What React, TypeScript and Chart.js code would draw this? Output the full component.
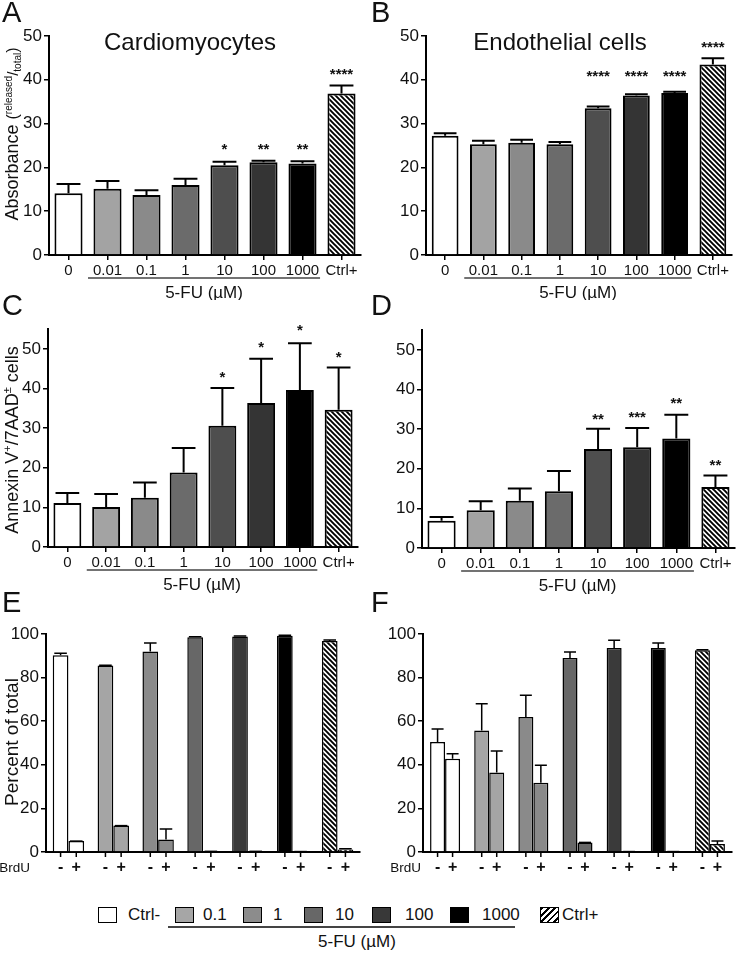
import React, { useEffect, useRef } from "react";
import { Chart, registerables } from "chart.js";
Chart.register(...registerables);

const FONT = "'Liberation Sans', Arial, Helvetica, sans-serif";
const INK = "#111111";

// ---------------- data ----------------
const doseLabels = ["0", "0.01", "0.1", "1", "10", "100", "1000", "Ctrl+"];
const doseColors = ["#ffffff", "#a3a3a3", "#8a8a8a", "#6b6b6b", "#4e4e4e", "#343434", "#000000", "hatch"];

// A: Cardiomyocytes, absorbance
const cardioAbsMeans = [14.1, 15.1, 13.7, 16.0, 20.5, 21.2, 20.9, 36.9];
const cardioAbsErrs = [2.1, 1.8, 1.1, 1.4, 0.8, 0.3, 0.5, 1.8];
const cardioAbsStars = ["", "", "", "", "*", "**", "**", "****"];
const cardioAbsStarY = [null, null, null, null, 25, 25, 25, 42.1];

// B: Endothelial cells, absorbance
const endoAbsMeans = [27.2, 25.3, 25.6, 25.3, 33.5, 36.4, 37.0, 43.5];
const endoAbsErrs = [0.6, 0.8, 0.7, 0.5, 0.4, 0.3, 0.3, 1.4];
const endoAbsStars = ["", "", "", "", "****", "****", "****", "****"];
const endoAbsStarY = [null, null, null, null, 41.6, 41.6, 41.6, 48.3];

// C: Cardiomyocytes, Annexin V+/7AAD± cells
const cardioAnxMeans = [11.1, 10.1, 12.4, 18.8, 30.6, 36.3, 39.6, 34.6];
const cardioAnxErrs = [2.5, 3.3, 3.9, 6.2, 9.5, 11.2, 11.8, 10.7];
const cardioAnxStars = ["", "", "", "", "*", "*", "*", "*"];
const cardioAnxStarY = [null, null, null, null, 43.9, 51.5, 55.7, 48.9];

// D: Endothelial cells, Annexin V+/7AAD± cells
const endoAnxMeans = [6.9, 9.5, 11.9, 14.3, 25.0, 25.4, 27.6, 15.4];
const endoAnxErrs = [0.9, 2.3, 3.1, 5.1, 5.1, 4.9, 6.0, 2.9];
const endoAnxStars = ["", "", "", "", "**", "***", "**", "**"];
const endoAnxStarY = [null, null, null, null, 33.4, 33.9, 37.6, 21.8];

// E / F: BrdU
const brduGroups = ["Ctrl-", "0.1", "1", "10", "100", "1000", "Ctrl+"];
const brduColors = ["#ffffff", "#a5a5a5", "#8a8a8a", "#676767", "#3a3a3a", "#000000", "hatch"];
const brduSigns = ["-", "+"];

const cardioBrduNeg = [90.2, 85.5, 92.0, 98.5, 98.9, 99.2, 96.8];
const cardioBrduNegErr = [1.0, 0.2, 3.9, 0.2, 0.2, 0.2, 0.4];
const cardioBrduPos = [5.0, 12.1, 5.7, 0.3, 0.3, 0.2, 1.2];
const cardioBrduPosErr = [0.0, 0.0, 4.9, 0.0, 0.0, 0.0, 0.3];

const endoBrduNeg = [50.5, 55.7, 61.9, 89.0, 93.6, 93.6, 92.5];
const endoBrduNegErr = [5.9, 12.3, 10.0, 2.7, 3.5, 2.3, 0.3];
const endoBrduPos = [42.8, 36.5, 31.8, 4.4, 0.2, 0.2, 3.7];
const endoBrduPosErr = [2.3, 9.8, 8.0, 0.0, 0.0, 0.0, 1.3];

// legend
const legendLabels = ["Ctrl-", "0.1", "1", "10", "100", "1000", "Ctrl+"];
const legendColors = ["#ffffff", "#a6a6a6", "#8c8c8c", "#676767", "#383838", "#000000", "hatch"];

// ---------------- layout ----------------
const legendBoxX = [98, 175, 243, 304, 372, 450, 540];
const legendTextX = [128, 203, 273, 335, 405, 482, 562];

type Part = { t: string; s: number; dy?: number };
type PanelSpec = {
  key: string;
  left: number; top: number; w: number; h: number;
  area: { l: number; r: number; t: number; b: number };
  xH: number;
  yMax: number; yStep: number;
  labels: string[];
  series: { data: number[]; errs: number[]; colors: string[] }[];
  barPct: number; catPct: number;
  borderW: number;
  capFrac: number;
  letter: string; letterY: number;
  title?: { text: string; cx: number; y: number };
  yTitle?: { parts: Part[]; x: number; cy: number };
  stars?: string[]; starY?: (number | null)[];
  fu?: boolean;
  brdu?: { labelRight: number };
};

const panels: PanelSpec[] = [
  {
    key: "A", left: 0, top: 0, w: 369, h: 300,
    area: { l: 49, r: 361, t: 36, b: 255 }, xH: 30,
    yMax: 50, yStep: 10, labels: doseLabels,
    series: [{ data: cardioAbsMeans, errs: cardioAbsErrs, colors: doseColors }],
    barPct: 0.72, catPct: 1, borderW: 2, capFrac: 0.85,
    letter: "A", letterY: 22,
    title: { text: "Cardiomyocytes", cx: 190, y: 50 },
    yTitle: {
      parts: [
        { t: "Absorbance ", s: 18 },
        { t: "(", s: 16 },
        { t: "released", s: 10, dy: -6 },
        { t: "/", s: 15 },
        { t: "total", s: 10, dy: 3 },
        { t: ")", s: 16 },
      ],
      x: 18, cy: 134,
    },
    stars: cardioAbsStars, starY: cardioAbsStarY, fu: true,
  },
  {
    key: "B", left: 369, top: 0, w: 370, h: 300,
    area: { l: 57, r: 363, t: 36, b: 255 }, xH: 30,
    yMax: 50, yStep: 10, labels: doseLabels,
    series: [{ data: endoAbsMeans, errs: endoAbsErrs, colors: doseColors }],
    barPct: 0.7, catPct: 1, borderW: 2, capFrac: 0.85,
    letter: "B", letterY: 22,
    title: { text: "Endothelial cells", cx: 191, y: 50 },
    stars: endoAbsStars, starY: endoAbsStarY, fu: true,
  },
  {
    key: "C", left: 0, top: 285, w: 369, h: 310,
    area: { l: 48, r: 358, t: 44, b: 262 }, xH: 30,
    yMax: 55, yStep: 10, labels: doseLabels,
    series: [{ data: cardioAnxMeans, errs: cardioAnxErrs, colors: doseColors }],
    barPct: 0.72, catPct: 1, borderW: 2, capFrac: 0.85,
    letter: "C", letterY: 30,
    yTitle: {
      parts: [
        { t: "Annexin V", s: 18 },
        { t: "+", s: 11, dy: -7 },
        { t: "/7AAD", s: 18 },
        { t: "±", s: 11, dy: -7 },
        { t: " cells", s: 18 },
      ],
      x: 18, cy: 155,
    },
    stars: cardioAnxStars, starY: cardioAnxStarY, fu: true,
  },
  {
    key: "D", left: 369, top: 285, w: 370, h: 310,
    area: { l: 53, r: 366, t: 45, b: 263 }, xH: 30,
    yMax: 55, yStep: 10, labels: doseLabels,
    series: [{ data: endoAnxMeans, errs: endoAnxErrs, colors: doseColors }],
    barPct: 0.72, catPct: 1, borderW: 2, capFrac: 0.85,
    letter: "D", letterY: 30,
    stars: endoAnxStars, starY: endoAnxStarY, fu: true,
  },
  {
    key: "E", left: 0, top: 585, w: 369, h: 295,
    area: { l: 46, r: 360, t: 49, b: 267 }, xH: 25,
    yMax: 100, yStep: 20, labels: brduGroups,
    series: [
      { data: cardioBrduNeg, errs: cardioBrduNegErr, colors: brduColors },
      { data: cardioBrduPos, errs: cardioBrduPosErr, colors: brduColors },
    ],
    barPct: 1, catPct: 0.7, borderW: 1.5, capFrac: 0.8,
    letter: "E", letterY: 27,
    yTitle: { parts: [{ t: "Percent of total", s: 19 }], x: 18, cy: 157 },
    brdu: { labelRight: 30 },
  },
  {
    key: "F", left: 369, top: 585, w: 370, h: 295,
    area: { l: 54, r: 363, t: 49, b: 267 }, xH: 25,
    yMax: 100, yStep: 20, labels: brduGroups,
    series: [
      { data: endoBrduNeg, errs: endoBrduNegErr, colors: brduColors },
      { data: endoBrduPos, errs: endoBrduPosErr, colors: brduColors },
    ],
    barPct: 1, catPct: 0.68, borderW: 1.5, capFrac: 0.8,
    letter: "F", letterY: 27,
    brdu: { labelRight: 52 },
  },
];

function makeHatchCanvas(size = 5, lw = 1.9) {
  const c = document.createElement("canvas");
  c.width = size;
  c.height = size;
  const g = c.getContext("2d")!;
  g.fillStyle = "#ffffff";
  g.fillRect(0, 0, size, size);
  g.strokeStyle = "#000000";
  g.lineWidth = lw;
  g.beginPath();
  for (const k of [-size, 0, size]) {
    g.moveTo(k - 1, -1);
    g.lineTo(k + size + 1, size + 1);
  }
  g.stroke();
  return c;
}

function extrasPlugin(p: PanelSpec) {
  return {
    id: "extras_" + p.key,
    afterDatasetsDraw(chart: any) {
      const ctx = chart.ctx as CanvasRenderingContext2D;
      const ys = chart.scales.y;
      ctx.save();
      ctx.strokeStyle = "#000";
      ctx.lineWidth = p.borderW;
      chart.data.datasets.forEach((ds: any, di: number) => {
        const meta = chart.getDatasetMeta(di);
        const errs = p.series[di].errs;
        meta.data.forEach((el: any, i: number) => {
          const e = errs[i];
          if (e == null) return;
          const top = ys.getPixelForValue(ds.data[i] + e);
          const half = (el.width * p.capFrac) / 2;
          ctx.beginPath();
          ctx.moveTo(el.x, el.y);
          ctx.lineTo(el.x, top);
          ctx.moveTo(el.x - half, top);
          ctx.lineTo(el.x + half, top);
          ctx.stroke();
        });
      });
      ctx.restore();
    },
    afterDraw(chart: any) {
      const ctx = chart.ctx as CanvasRenderingContext2D;
      const xs = chart.scales.x;
      const ys = chart.scales.y;
      const ca = chart.chartArea;
      ctx.save();
      ctx.fillStyle = INK;
      ctx.textBaseline = "alphabetic";
      // panel letter
      ctx.font = `29px ${FONT}`;
      ctx.textAlign = "left";
      ctx.fillText(p.letter, 2, p.letterY);
      // title
      if (p.title) {
        ctx.font = `24px ${FONT}`;
        ctx.textAlign = "center";
        ctx.fillText(p.title.text, p.title.cx, p.title.y);
      }
      // y title
      if (p.yTitle) {
        ctx.save();
        ctx.translate(p.yTitle.x, p.yTitle.cy);
        ctx.rotate(-Math.PI / 2);
        ctx.textAlign = "left";
        let total = 0;
        for (const part of p.yTitle.parts) {
          ctx.font = `${part.s}px ${FONT}`;
          total += ctx.measureText(part.t).width;
        }
        let x = -total / 2;
        for (const part of p.yTitle.parts) {
          ctx.font = `${part.s}px ${FONT}`;
          ctx.fillText(part.t, x, part.dy || 0);
          x += ctx.measureText(part.t).width;
        }
        ctx.restore();
      }
      // significance stars
      if (p.stars && p.starY) {
        ctx.font = `bold 15px ${FONT}`;
        ctx.textAlign = "center";
        const meta = chart.getDatasetMeta(0);
        p.stars.forEach((s, i) => {
          const v = p.starY![i];
          if (!s || v == null) return;
          ctx.fillText(s, meta.data[i].x, ys.getPixelForValue(v) + 8.7);
        });
      }
      // 5-FU underline + label
      if (p.fu) {
        const c1 = xs.getPixelForValue(1);
        const c6 = xs.getPixelForValue(6);
        const cw = xs.getPixelForValue(2) - c1;
        const x1 = c1 - cw * 0.5;
        const x2 = c6 + cw * 0.45;
        ctx.strokeStyle = "#444";
        ctx.lineWidth = 1.5;
        ctx.beginPath();
        ctx.moveTo(x1, ca.bottom + 23);
        ctx.lineTo(x2, ca.bottom + 23);
        ctx.stroke();
        ctx.font = `17px ${FONT}`;
        ctx.textAlign = "center";
        ctx.textBaseline = "middle";
        ctx.fillText("5-FU (\u00b5M)", (x1 + x2) / 2, ca.bottom + 38);
      }
      // BrdU sign labels
      if (p.brdu) {
        ctx.strokeStyle = "#000";
        ctx.lineWidth = 1.5;
        ctx.textAlign = "center";
        ctx.textBaseline = "middle";
        ctx.font = `bold 16px ${FONT}`;
        brduSigns.forEach((sg, di) => {
          chart.getDatasetMeta(di).data.forEach((el: any) => {
            ctx.beginPath();
            ctx.moveTo(el.x, ca.bottom);
            ctx.lineTo(el.x, ca.bottom + 5);
            ctx.stroke();
            ctx.fillText(sg, el.x, ca.bottom + 16);
          });
        });
        ctx.font = `13.5px ${FONT}`;
        ctx.textAlign = "right";
        ctx.fillText("BrdU", p.brdu.labelRight, ca.bottom + 16);
      }
      ctx.restore();
    },
  };
}

function Panel({ p }: { p: PanelSpec }) {
  const ref = useRef<HTMLCanvasElement>(null);
  useEffect(() => {
    const canvas = ref.current!;
    const ctx = canvas.getContext("2d")!;
    const pattern = ctx.createPattern(makeHatchCanvas(), "repeat");
    const yW = p.area.l;
    const isBrdu = !!p.brdu;
    const chart = new Chart(ctx, {
      type: "bar",
      data: {
        labels: p.labels,
        datasets: p.series.map((s, i) => ({
          label: isBrdu ? brduSigns[i] : "mean",
          data: s.data,
          backgroundColor: s.colors.map((c) => (c === "hatch" ? pattern : c)) as any,
          borderColor: "#000",
          borderWidth: p.borderW,
          barPercentage: p.barPct,
          categoryPercentage: p.catPct,
        })),
      },
      options: {
        responsive: false,
        animation: false,
        devicePixelRatio: 1,
        layout: {
          padding: {
            left: 0,
            top: p.area.t,
            right: p.w - p.area.r,
            bottom: p.h - p.area.b - p.xH,
          },
        },
        plugins: { legend: { display: false }, tooltip: { enabled: false }, title: { display: false } },
        scales: {
          x: {
            type: "category",
            offset: true,
            ticks: {
              display: !isBrdu,
              font: { family: FONT, size: 15 },
              color: INK,
              padding: 2,
              maxRotation: 0,
              autoSkip: false,
            },
            grid: {
              display: !isBrdu,
              drawOnChartArea: false,
              drawTicks: true,
              tickLength: 5,
              offset: false,
              color: "#000",
              lineWidth: 1.5,
            },
            border: { display: true, color: "#000", width: 2 },
            afterFit: (s: any) => {
              s.height = p.xH;
            },
          } as any,
          y: {
            type: "linear",
            min: 0,
            max: p.yMax,
            bounds: "data",
            ticks: {
              stepSize: p.yStep,
              includeBounds: false,
              font: { family: FONT, size: 17 },
              color: INK,
              padding: 2,
            },
            grid: {
              display: true,
              drawOnChartArea: false,
              drawTicks: true,
              tickLength: 5,
              color: "#000",
              lineWidth: 1.5,
            },
            border: { display: true, color: "#000", width: 2 },
            afterBuildTicks: (s: any) => {
              s.ticks = s.ticks.filter((t: any) => Math.abs(t.value / p.yStep - Math.round(t.value / p.yStep)) < 1e-6);
            },
            afterFit: (s: any) => {
              s.width = yW;
            },
          } as any,
        },
      },
      plugins: [extrasPlugin(p)],
    });
    return () => chart.destroy();
  }, [p]);
  return (
    <canvas
      ref={ref}
      width={p.w}
      height={p.h}
      style={{ position: "absolute", left: p.left, top: p.top, width: p.w, height: p.h }}
    />
  );
}

function Legend() {
  const hatchCss = "repeating-linear-gradient(135deg, #000 0px, #000 2px, #fff 2px, #fff 4.5px)";
  return (
    <div>
      {legendLabels.map((lab, i) => (
        <React.Fragment key={lab}>
          <div
            style={{
              position: "absolute",
              left: legendBoxX[i],
              top: 907,
              width: 19,
              height: 16,
              boxSizing: "border-box",
              border: "1.5px solid #000",
              background: legendColors[i] === "hatch" ? hatchCss : legendColors[i],
            }}
          />
          <div
            style={{
              position: "absolute",
              left: legendTextX[i],
              top: 905,
              fontSize: 17,
              lineHeight: "20px",
              fontFamily: FONT,
              color: INK,
              whiteSpace: "nowrap",
            }}
          >
            {lab}
          </div>
        </React.Fragment>
      ))}
      <div style={{ position: "absolute", left: 168, top: 926, width: 347, height: 1.5, background: "#444" }} />
      <div
        style={{
          position: "absolute",
          left: 257,
          width: 200,
          top: 932,
          textAlign: "center",
          fontSize: 17,
          lineHeight: "20px",
          fontFamily: FONT,
          color: INK,
        }}
      >
        5-FU (µM)
      </div>
    </div>
  );
}

export default function App() {
  return (
    <div
      style={{
        position: "absolute",
        left: 0,
        top: 0,
        width: 739,
        height: 960,
        background: "#ffffff",
        overflow: "hidden",
        fontFamily: FONT,
      }}
    >
      {panels.map((p) => (
        <Panel key={p.key} p={p} />
      ))}
      <Legend />
    </div>
  );
}
